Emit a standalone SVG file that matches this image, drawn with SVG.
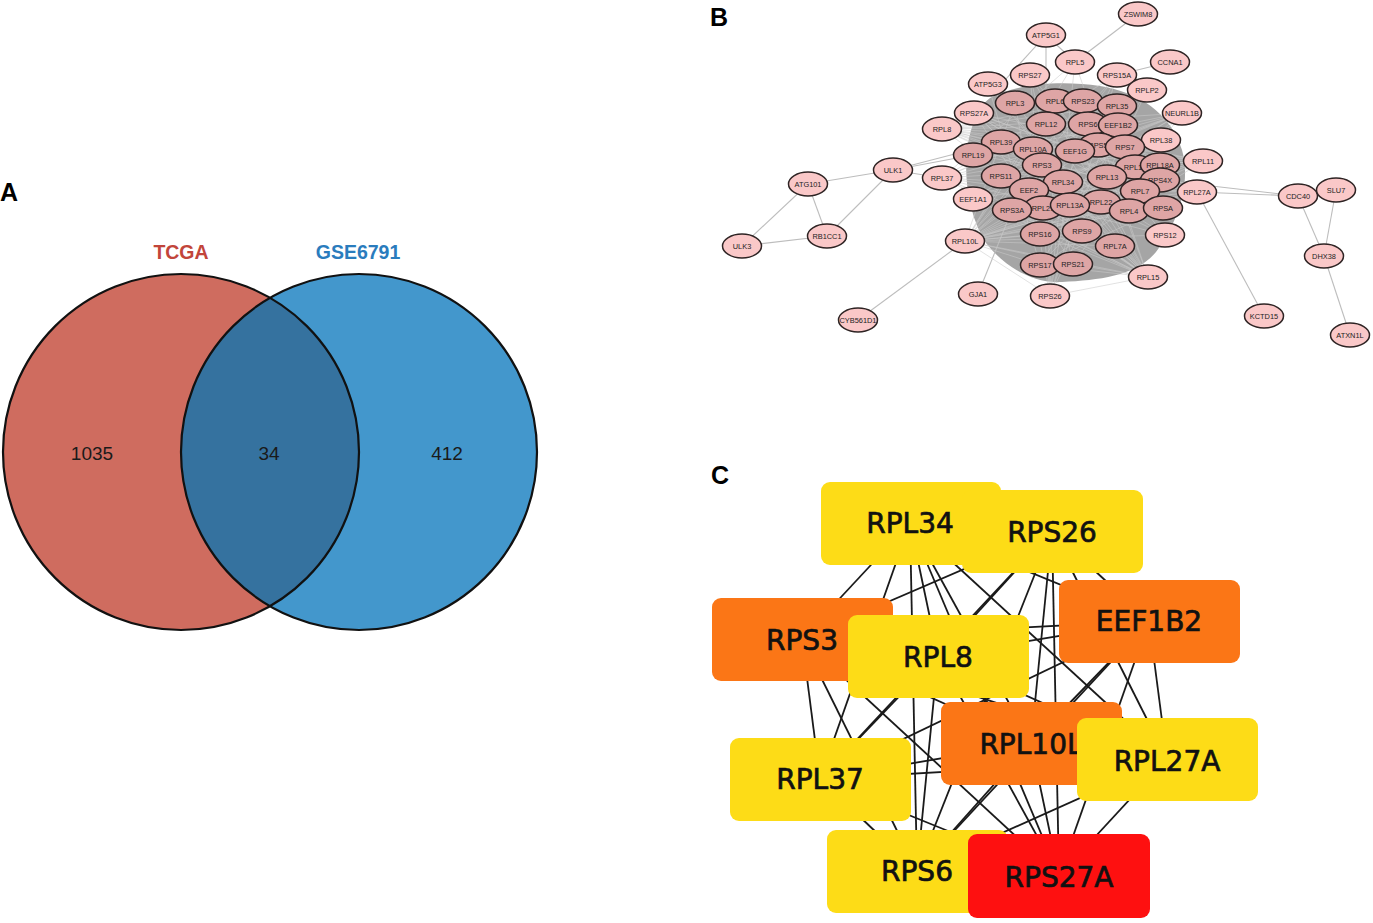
<svg xmlns="http://www.w3.org/2000/svg" width="1373" height="923" viewBox="0 0 1373 923">
<style>
.lbl{font-family:"Liberation Sans",Arial,sans-serif;font-weight:bold;font-size:25px;fill:#000}
.num{font-family:"Liberation Sans",Arial,sans-serif;font-size:19px;fill:#1a1a1a;text-anchor:middle}
.set{font-family:"Liberation Sans",Arial,sans-serif;font-weight:bold;font-size:19.5px;text-anchor:middle}
.vc{stroke:#111;stroke-width:2.2;fill:none}
.e{stroke:#bdbdbd;stroke-width:1.1;fill:none}
.t{stroke:#cacaca;stroke-width:0.55;fill:none}
.no ellipse{fill:#fac8c8;stroke:#2e2424;stroke-width:1.5}
.nc ellipse{fill:#dea5a5;stroke:#2e2424;stroke-width:1.5}
.no text,.nc text{font-family:"Liberation Sans",Arial,sans-serif;font-size:7.4px;fill:#222;text-anchor:middle;dominant-baseline:central}
.ce{stroke:#1a1a1a;stroke-width:1.8}
.bx text{font-family:"DejaVu Sans",sans-serif;font-size:28px;fill:#111;stroke:#111;stroke-width:0.7;text-anchor:middle;dominant-baseline:central}
.y rect{fill:#fddc17}
.o rect{fill:#fb7616}
.r rect{fill:#fe1010}
</style>
<rect width="1373" height="923" fill="#fff"/>

<!-- Panel labels -->
<text class="lbl" x="0" y="201">A</text>
<text class="lbl" x="710" y="26">B</text>
<text class="lbl" x="711" y="484">C</text>

<!-- Panel A: Venn -->
<g id="venn">
<defs>
<clipPath id="clipL"><circle cx="181" cy="452" r="178"/></clipPath>
</defs>
<g id="set-tcga"><circle cx="181" cy="452" r="178" fill="#cf6c5f"/></g>
<g id="set-gse"><circle cx="359" cy="452" r="178" fill="#4397cc"/></g>
<circle cx="359" cy="452" r="178" fill="#35729f" clip-path="url(#clipL)"/>
<circle class="vc" cx="181" cy="452" r="178"/>
<circle class="vc" cx="359" cy="452" r="178"/>
<text class="set" x="181" y="259" fill="#c2453a">TCGA</text>
<text class="set" x="358" y="259" fill="#2a7cbd">GSE6791</text>
<text class="num" x="92" y="460">1035</text>
<text class="num" x="269" y="460">34</text>
<text class="num" x="447" y="460">412</text>
</g>

<!-- Panel B: network -->
<g id="edges-b">
<path d="M 990,98 C 1015,84 1060,80 1100,86 C 1138,92 1170,112 1182,150 C 1192,185 1176,225 1156,252 C 1136,276 1100,280 1062,282 C 1032,284 1004,266 986,243 C 968,215 962,172 969,138 C 974,118 980,105 990,98 Z" fill="#a5a5a5"/>
<!-- peripheral edges -->
<line class="e" x1="1138" y1="14" x2="1075" y2="62"/>
<line class="e" x1="1046" y1="35" x2="1005" y2="80"/>
<line class="e" x1="1046" y1="35" x2="1046" y2="95"/>
<line class="e" x1="1046" y1="35" x2="1075" y2="62"/>
<line class="e" x1="1170" y1="62" x2="1117" y2="75"/>
<line class="e" x1="893" y1="170" x2="808" y2="184"/>
<line class="e" x1="893" y1="170" x2="827" y2="236"/>
<line class="e" x1="808" y1="184" x2="827" y2="236"/>
<line class="e" x1="808" y1="184" x2="742" y2="246"/>
<line class="e" x1="742" y1="246" x2="827" y2="236"/>
<line class="e" x1="893" y1="170" x2="973" y2="155"/>
<line class="e" x1="893" y1="170" x2="1001" y2="142"/>
<line class="e" x1="893" y1="170" x2="942" y2="178"/>
<line class="e" x1="858" y1="320" x2="965" y2="241"/>
<line class="e" x1="978" y1="294" x2="1012" y2="210"/>
<line class="e" x1="1197" y1="192" x2="1298" y2="196"/>
<line class="e" x1="1160" y1="180" x2="1298" y2="196"/>
<line class="e" x1="1298" y1="196" x2="1324" y2="256"/>
<line class="e" x1="1336" y1="190" x2="1324" y2="256"/>
<line class="e" x1="1324" y1="256" x2="1350" y2="335"/>
<line class="e" x1="1264" y1="316" x2="1197" y2="192"/>
<line class="e" x1="1182" y1="113" x2="1098" y2="145"/>
<line class="e" x1="1203" y1="161" x2="1125" y2="147"/>
<!-- dense texture -->
<g class="t">
<line x1="965" y1="241" x2="1015" y2="103"/><line x1="965" y1="241" x2="1055" y2="101"/><line x1="965" y1="241" x2="1083" y2="101"/><line x1="965" y1="241" x2="1046" y2="124"/><line x1="965" y1="241" x2="1117" y2="106"/><line x1="965" y1="241" x2="1118" y2="125"/><line x1="965" y1="241" x2="1161" y2="140"/><line x1="965" y1="241" x2="1160" y2="165"/><line x1="965" y1="241" x2="1160" y2="180"/><line x1="965" y1="241" x2="1140" y2="191"/><line x1="965" y1="241" x2="1163" y2="208"/><line x1="965" y1="241" x2="1165" y2="235"/><line x1="965" y1="241" x2="1129" y2="211"/><line x1="965" y1="241" x2="1101" y2="202"/><line x1="965" y1="241" x2="1107" y2="177"/><line x1="965" y1="241" x2="1082" y2="231"/><line x1="965" y1="241" x2="1115" y2="246"/><line x1="965" y1="241" x2="1040" y2="234"/><line x1="965" y1="241" x2="1040" y2="265"/><line x1="965" y1="241" x2="1073" y2="264"/><line x1="965" y1="241" x2="1050" y2="296"/><line x1="965" y1="241" x2="1148" y2="277"/><line x1="965" y1="241" x2="1203" y2="161"/><line x1="965" y1="241" x2="1197" y2="192"/><line x1="965" y1="241" x2="1182" y2="113"/><line x1="965" y1="241" x2="1147" y2="90"/><line x1="965" y1="241" x2="1117" y2="75"/><line x1="965" y1="241" x2="1075" y2="62"/>
<line x1="1148" y1="277" x2="942" y2="129"/><line x1="1148" y1="277" x2="974" y2="113"/><line x1="1148" y1="277" x2="973" y2="155"/><line x1="1148" y1="277" x2="942" y2="178"/><line x1="1148" y1="277" x2="973" y2="199"/><line x1="1148" y1="277" x2="1001" y2="176"/><line x1="1148" y1="277" x2="1001" y2="142"/><line x1="1148" y1="277" x2="1015" y2="103"/><line x1="1148" y1="277" x2="1030" y2="75"/><line x1="1148" y1="277" x2="1046" y2="124"/><line x1="1148" y1="277" x2="1033" y2="149"/><line x1="1148" y1="277" x2="1042" y2="165"/><line x1="1148" y1="277" x2="1029" y2="190"/><line x1="1148" y1="277" x2="1012" y2="210"/><line x1="1148" y1="277" x2="1043" y2="208"/><line x1="1148" y1="277" x2="1040" y2="234"/><line x1="1148" y1="277" x2="1040" y2="265"/><line x1="1148" y1="277" x2="1073" y2="264"/><line x1="1148" y1="277" x2="1050" y2="296"/><line x1="1148" y1="277" x2="1075" y2="62"/><line x1="1148" y1="277" x2="1083" y2="101"/><line x1="1148" y1="277" x2="1055" y2="101"/><line x1="1148" y1="277" x2="988" y2="84"/>
<line x1="942" y1="129" x2="1117" y2="106"/><line x1="942" y1="129" x2="1118" y2="125"/><line x1="942" y1="129" x2="1161" y2="140"/><line x1="942" y1="129" x2="1160" y2="165"/><line x1="942" y1="129" x2="1160" y2="180"/><line x1="942" y1="129" x2="1203" y2="161"/><line x1="942" y1="129" x2="1197" y2="192"/><line x1="942" y1="129" x2="1163" y2="208"/><line x1="942" y1="129" x2="1165" y2="235"/><line x1="942" y1="129" x2="1140" y2="191"/><line x1="942" y1="129" x2="1129" y2="211"/><line x1="942" y1="129" x2="1182" y2="113"/><line x1="942" y1="129" x2="1147" y2="90"/>
<line x1="942" y1="178" x2="1117" y2="106"/><line x1="942" y1="178" x2="1147" y2="90"/><line x1="942" y1="178" x2="1182" y2="113"/><line x1="942" y1="178" x2="1161" y2="140"/><line x1="942" y1="178" x2="1203" y2="161"/><line x1="942" y1="178" x2="1197" y2="192"/><line x1="942" y1="178" x2="1163" y2="208"/><line x1="942" y1="178" x2="1165" y2="235"/><line x1="942" y1="178" x2="1115" y2="246"/><line x1="942" y1="178" x2="1117" y2="75"/><line x1="942" y1="178" x2="1075" y2="62"/>
<line x1="974" y1="113" x2="1203" y2="161"/><line x1="974" y1="113" x2="1197" y2="192"/><line x1="974" y1="113" x2="1163" y2="208"/><line x1="974" y1="113" x2="1165" y2="235"/><line x1="974" y1="113" x2="1115" y2="246"/><line x1="974" y1="113" x2="1073" y2="264"/><line x1="974" y1="113" x2="1129" y2="211"/><line x1="974" y1="113" x2="1160" y2="180"/>
<line x1="1050" y1="296" x2="1075" y2="62"/><line x1="1050" y1="296" x2="1030" y2="75"/><line x1="1050" y1="296" x2="1015" y2="103"/><line x1="1050" y1="296" x2="1055" y2="101"/><line x1="1050" y1="296" x2="1083" y2="101"/><line x1="1050" y1="296" x2="1117" y2="106"/><line x1="1050" y1="296" x2="1117" y2="75"/><line x1="1050" y1="296" x2="1147" y2="90"/><line x1="1050" y1="296" x2="1046" y2="124"/>
<line x1="1203" y1="161" x2="973" y2="199"/><line x1="1203" y1="161" x2="1012" y2="210"/><line x1="1203" y1="161" x2="1040" y2="234"/><line x1="1203" y1="161" x2="1040" y2="265"/><line x1="1203" y1="161" x2="1001" y2="176"/><line x1="1203" y1="161" x2="973" y2="155"/><line x1="1203" y1="161" x2="1001" y2="142"/>
<line x1="1197" y1="192" x2="973" y2="155"/><line x1="1197" y1="192" x2="1001" y2="176"/><line x1="1197" y1="192" x2="1029" y2="190"/><line x1="1197" y1="192" x2="1012" y2="210"/><line x1="1197" y1="192" x2="1040" y2="234"/><line x1="1197" y1="192" x2="1040" y2="265"/><line x1="1197" y1="192" x2="1001" y2="142"/><line x1="1197" y1="192" x2="1046" y2="124"/>
<line x1="1182" y1="113" x2="973" y2="155"/><line x1="1182" y1="113" x2="1001" y2="176"/><line x1="1182" y1="113" x2="973" y2="199"/><line x1="1182" y1="113" x2="1012" y2="210"/><line x1="1182" y1="113" x2="1040" y2="234"/><line x1="1182" y1="113" x2="1040" y2="265"/><line x1="1182" y1="113" x2="1073" y2="264"/>
<line x1="988" y1="84" x2="1040" y2="265"/><line x1="988" y1="84" x2="1115" y2="246"/><line x1="1030" y1="75" x2="1165" y2="235"/><line x1="1030" y1="75" x2="1073" y2="264"/><line x1="1147" y1="90" x2="1040" y2="265"/><line x1="1147" y1="90" x2="973" y2="199"/><line x1="1117" y1="75" x2="1012" y2="210"/><line x1="1117" y1="75" x2="1040" y2="234"/>
</g>
</g>

<g id="nodes-b">
<g id="n-ZSWIM8" class="no"><ellipse cx="1138" cy="14" rx="19.5" ry="12"/><text x="1138" y="14">ZSWIM8</text></g>
<g id="n-ATP5G1" class="no"><ellipse cx="1046" cy="35" rx="19.5" ry="12"/><text x="1046" y="35">ATP5G1</text></g>
<g id="n-CCNA1" class="no"><ellipse cx="1170" cy="62" rx="19.5" ry="12"/><text x="1170" y="62">CCNA1</text></g>
<g id="n-RPL5" class="no"><ellipse cx="1075" cy="62" rx="19.5" ry="12"/><text x="1075" y="62">RPL5</text></g>
<g id="n-RPS27" class="no"><ellipse cx="1030" cy="75" rx="19.5" ry="12"/><text x="1030" y="75">RPS27</text></g>
<g id="n-RPS15A" class="no"><ellipse cx="1117" cy="75" rx="19.5" ry="12"/><text x="1117" y="75">RPS15A</text></g>
<g id="n-ATP5G3" class="no"><ellipse cx="988" cy="84" rx="19.5" ry="12"/><text x="988" y="84">ATP5G3</text></g>
<g id="n-RPLP2" class="no"><ellipse cx="1147" cy="90" rx="19.5" ry="12"/><text x="1147" y="90">RPLP2</text></g>
<g id="n-RPL3" class="nc"><ellipse cx="1015" cy="103" rx="19.5" ry="12"/><text x="1015" y="103">RPL3</text></g>
<g id="n-RPL6" class="nc"><ellipse cx="1055" cy="101" rx="19.5" ry="12"/><text x="1055" y="101">RPL6</text></g>
<g id="n-RPS23" class="nc"><ellipse cx="1083" cy="101" rx="19.5" ry="12"/><text x="1083" y="101">RPS23</text></g>
<g id="n-RPL35" class="nc"><ellipse cx="1117" cy="106" rx="19.5" ry="12"/><text x="1117" y="106">RPL35</text></g>
<g id="n-RPS27A" class="no"><ellipse cx="974" cy="113" rx="19.5" ry="12"/><text x="974" y="113">RPS27A</text></g>
<g id="n-NEURL1B" class="no"><ellipse cx="1182" cy="113" rx="19.5" ry="12"/><text x="1182" y="113">NEURL1B</text></g>
<g id="n-RPL12" class="nc"><ellipse cx="1046" cy="124" rx="19.5" ry="12"/><text x="1046" y="124">RPL12</text></g>
<g id="n-RPS6" class="nc"><ellipse cx="1088" cy="124" rx="19.5" ry="12"/><text x="1088" y="124">RPS6</text></g>
<g id="n-EEF1B2" class="nc"><ellipse cx="1118" cy="125" rx="19.5" ry="12"/><text x="1118" y="125">EEF1B2</text></g>
<g id="n-RPL8" class="no"><ellipse cx="942" cy="129" rx="19.5" ry="12"/><text x="942" y="129">RPL8</text></g>
<g id="n-RPL38" class="no"><ellipse cx="1161" cy="140" rx="19.5" ry="12"/><text x="1161" y="140">RPL38</text></g>
<g id="n-RPS5" class="nc"><ellipse cx="1098" cy="145" rx="19.5" ry="12"/><text x="1098" y="145">RPS5</text></g>
<g id="n-RPS7" class="nc"><ellipse cx="1125" cy="147" rx="19.5" ry="12"/><text x="1125" y="147">RPS7</text></g>
<g id="n-RPL39" class="nc"><ellipse cx="1001" cy="142" rx="19.5" ry="12"/><text x="1001" y="142">RPL39</text></g>
<g id="n-RPL10A" class="nc"><ellipse cx="1033" cy="149" rx="19.5" ry="12"/><text x="1033" y="149">RPL10A</text></g>
<g id="n-EEF1G" class="nc"><ellipse cx="1075" cy="151" rx="19.5" ry="12"/><text x="1075" y="151">EEF1G</text></g>
<g id="n-RPL19" class="nc"><ellipse cx="973" cy="155" rx="19.5" ry="12"/><text x="973" y="155">RPL19</text></g>
<g id="n-RPL11" class="no"><ellipse cx="1203" cy="161" rx="19.5" ry="12"/><text x="1203" y="161">RPL11</text></g>
<g id="n-RPS3" class="nc"><ellipse cx="1042" cy="165" rx="19.5" ry="12"/><text x="1042" y="165">RPS3</text></g>
<g id="n-RPL18" class="nc"><ellipse cx="1135" cy="167" rx="19.5" ry="12"/><text x="1135" y="167">RPL18</text></g>
<g id="n-RPL18A" class="nc"><ellipse cx="1160" cy="165" rx="19.5" ry="12"/><text x="1160" y="165">RPL18A</text></g>
<g id="n-ULK1" class="no"><ellipse cx="893" cy="170" rx="19.5" ry="12"/><text x="893" y="170">ULK1</text></g>
<g id="n-RPL37" class="no"><ellipse cx="942" cy="178" rx="19.5" ry="12"/><text x="942" y="178">RPL37</text></g>
<g id="n-RPS11" class="nc"><ellipse cx="1001" cy="176" rx="19.5" ry="12"/><text x="1001" y="176">RPS11</text></g>
<g id="n-RPL13" class="nc"><ellipse cx="1107" cy="177" rx="19.5" ry="12"/><text x="1107" y="177">RPL13</text></g>
<g id="n-RPS4X" class="nc"><ellipse cx="1160" cy="180" rx="19.5" ry="12"/><text x="1160" y="180">RPS4X</text></g>
<g id="n-RPL34" class="nc"><ellipse cx="1063" cy="182" rx="19.5" ry="12"/><text x="1063" y="182">RPL34</text></g>
<g id="n-ATG101" class="no"><ellipse cx="808" cy="184" rx="19.5" ry="12"/><text x="808" y="184">ATG101</text></g>
<g id="n-EEF2" class="nc"><ellipse cx="1029" cy="190" rx="19.5" ry="12"/><text x="1029" y="190">EEF2</text></g>
<g id="n-RPL7" class="nc"><ellipse cx="1140" cy="191" rx="19.5" ry="12"/><text x="1140" y="191">RPL7</text></g>
<g id="n-RPL27A" class="no"><ellipse cx="1197" cy="192" rx="19.5" ry="12"/><text x="1197" y="192">RPL27A</text></g>
<g id="n-CDC40" class="no"><ellipse cx="1298" cy="196" rx="19.5" ry="12"/><text x="1298" y="196">CDC40</text></g>
<g id="n-SLU7" class="no"><ellipse cx="1336" cy="190" rx="19.5" ry="12"/><text x="1336" y="190">SLU7</text></g>
<g id="n-EEF1A1" class="no"><ellipse cx="973" cy="199" rx="19.5" ry="12"/><text x="973" y="199">EEF1A1</text></g>
<g id="n-RPL22" class="nc"><ellipse cx="1101" cy="202" rx="19.5" ry="12"/><text x="1101" y="202">RPL22</text></g>
<g id="n-RPL21" class="nc"><ellipse cx="1043" cy="208" rx="19.5" ry="12"/><text x="1043" y="208">RPL21</text></g>
<g id="n-RPL13A" class="nc"><ellipse cx="1070" cy="205" rx="19.5" ry="12"/><text x="1070" y="205">RPL13A</text></g>
<g id="n-RPS3A" class="nc"><ellipse cx="1012" cy="210" rx="19.5" ry="12"/><text x="1012" y="210">RPS3A</text></g>
<g id="n-RPL4" class="nc"><ellipse cx="1129" cy="211" rx="19.5" ry="12"/><text x="1129" y="211">RPL4</text></g>
<g id="n-RPSA" class="nc"><ellipse cx="1163" cy="208" rx="19.5" ry="12"/><text x="1163" y="208">RPSA</text></g>
<g id="n-RPS16" class="nc"><ellipse cx="1040" cy="234" rx="19.5" ry="12"/><text x="1040" y="234">RPS16</text></g>
<g id="n-RPS9" class="nc"><ellipse cx="1082" cy="231" rx="19.5" ry="12"/><text x="1082" y="231">RPS9</text></g>
<g id="n-RB1CC1" class="no"><ellipse cx="827" cy="236" rx="19.5" ry="12"/><text x="827" y="236">RB1CC1</text></g>
<g id="n-RPS12" class="no"><ellipse cx="1165" cy="235" rx="19.5" ry="12"/><text x="1165" y="235">RPS12</text></g>
<g id="n-RPL10L" class="no"><ellipse cx="965" cy="241" rx="19.5" ry="12"/><text x="965" y="241">RPL10L</text></g>
<g id="n-ULK3" class="no"><ellipse cx="742" cy="246" rx="19.5" ry="12"/><text x="742" y="246">ULK3</text></g>
<g id="n-RPL7A" class="nc"><ellipse cx="1115" cy="246" rx="19.5" ry="12"/><text x="1115" y="246">RPL7A</text></g>
<g id="n-DHX38" class="no"><ellipse cx="1324" cy="256" rx="19.5" ry="12"/><text x="1324" y="256">DHX38</text></g>
<g id="n-RPS17" class="nc"><ellipse cx="1040" cy="265" rx="19.5" ry="12"/><text x="1040" y="265">RPS17</text></g>
<g id="n-RPS21" class="nc"><ellipse cx="1073" cy="264" rx="19.5" ry="12"/><text x="1073" y="264">RPS21</text></g>
<g id="n-RPL15" class="no"><ellipse cx="1148" cy="277" rx="19.5" ry="12"/><text x="1148" y="277">RPL15</text></g>
<g id="n-GJA1" class="no"><ellipse cx="978" cy="294" rx="19.5" ry="12"/><text x="978" y="294">GJA1</text></g>
<g id="n-RPS26" class="no"><ellipse cx="1050" cy="296" rx="19.5" ry="12"/><text x="1050" y="296">RPS26</text></g>
<g id="n-KCTD15" class="no"><ellipse cx="1264" cy="316" rx="19.5" ry="12"/><text x="1264" y="316">KCTD15</text></g>
<g id="n-CYB561D1" class="no"><ellipse cx="858" cy="320" rx="19.5" ry="12"/><text x="858" y="320">CYB561D1</text></g>
<g id="n-ATXN1L" class="no"><ellipse cx="1350" cy="335" rx="19.5" ry="12"/><text x="1350" y="335">ATXN1L</text></g>
</g>

<!-- Panel C: hub network -->
<g id="edges-c" class="ce">
<line x1="910" y1="523" x2="1052" y2="531"/><line x1="910" y1="523" x2="802" y2="639"/><line x1="910" y1="523" x2="938" y2="656"/><line x1="910" y1="523" x2="1149" y2="621"/><line x1="910" y1="523" x2="1031" y2="743"/><line x1="910" y1="523" x2="1167" y2="759"/><line x1="910" y1="523" x2="820" y2="779"/><line x1="910" y1="523" x2="917" y2="871"/><line x1="910" y1="523" x2="1059" y2="876"/>
<line x1="1052" y1="531" x2="802" y2="639"/><line x1="1052" y1="531" x2="938" y2="656"/><line x1="1052" y1="531" x2="1149" y2="621"/><line x1="1052" y1="531" x2="1031" y2="743"/><line x1="1052" y1="531" x2="1167" y2="759"/><line x1="1052" y1="531" x2="820" y2="779"/><line x1="1052" y1="531" x2="917" y2="871"/><line x1="1052" y1="531" x2="1059" y2="876"/>
<line x1="802" y1="639" x2="938" y2="656"/><line x1="802" y1="639" x2="1149" y2="621"/><line x1="802" y1="639" x2="1031" y2="743"/><line x1="802" y1="639" x2="1167" y2="759"/><line x1="802" y1="639" x2="820" y2="779"/><line x1="802" y1="639" x2="917" y2="871"/><line x1="802" y1="639" x2="1059" y2="876"/>
<line x1="938" y1="656" x2="1149" y2="621"/><line x1="938" y1="656" x2="1031" y2="743"/><line x1="938" y1="656" x2="1167" y2="759"/><line x1="938" y1="656" x2="820" y2="779"/><line x1="938" y1="656" x2="917" y2="871"/><line x1="938" y1="656" x2="1059" y2="876"/>
<line x1="1149" y1="621" x2="1031" y2="743"/><line x1="1149" y1="621" x2="1167" y2="759"/><line x1="1149" y1="621" x2="820" y2="779"/><line x1="1149" y1="621" x2="917" y2="871"/><line x1="1149" y1="621" x2="1059" y2="876"/>
<line x1="1031" y1="743" x2="1167" y2="759"/><line x1="1031" y1="743" x2="820" y2="779"/><line x1="1031" y1="743" x2="917" y2="871"/><line x1="1031" y1="743" x2="1059" y2="876"/>
<line x1="1167" y1="759" x2="820" y2="779"/><line x1="1167" y1="759" x2="917" y2="871"/><line x1="1167" y1="759" x2="1059" y2="876"/>
<line x1="820" y1="779" x2="917" y2="871"/><line x1="820" y1="779" x2="1059" y2="876"/>
<line x1="917" y1="871" x2="1059" y2="876"/>
</g>

<g id="nodes-c">
<g id="c-RPL34" class="bx y"><rect x="821" y="482" width="180" height="83" rx="9"/><text x="910" y="523">RPL34</text></g>
<g id="c-RPS26" class="bx y"><rect x="962" y="490" width="181" height="83" rx="9"/><text x="1052" y="532">RPS26</text></g>
<g id="c-RPS3" class="bx o"><rect x="712" y="598" width="181" height="83" rx="9"/><text x="802" y="640">RPS3</text></g>
<g id="c-RPL8" class="bx y"><rect x="848" y="615" width="181" height="83" rx="9"/><text x="938" y="657">RPL8</text></g>
<g id="c-EEF1B2" class="bx o"><rect x="1059" y="580" width="181" height="83" rx="9"/><text x="1149" y="621">EEF1B2</text></g>
<g id="c-RPL37" class="bx y"><rect x="730" y="738" width="181" height="83" rx="9"/><text x="820" y="779">RPL37</text></g>
<g id="c-RPL10L" class="bx o"><rect x="941" y="702" width="181" height="83" rx="9"/><text x="1031" y="744">RPL10L</text></g>
<g id="c-RPL27A" class="bx y"><rect x="1077" y="718" width="181" height="83" rx="9"/><text x="1167" y="761">RPL27A</text></g>
<g id="c-RPS6" class="bx y"><rect x="827" y="830" width="181" height="83" rx="9"/><text x="917" y="871">RPS6</text></g>
<g id="c-RPS27A" class="bx r"><rect x="968" y="834" width="182" height="84" rx="9"/><text x="1059" y="877">RPS27A</text></g>
</g>
</svg>
